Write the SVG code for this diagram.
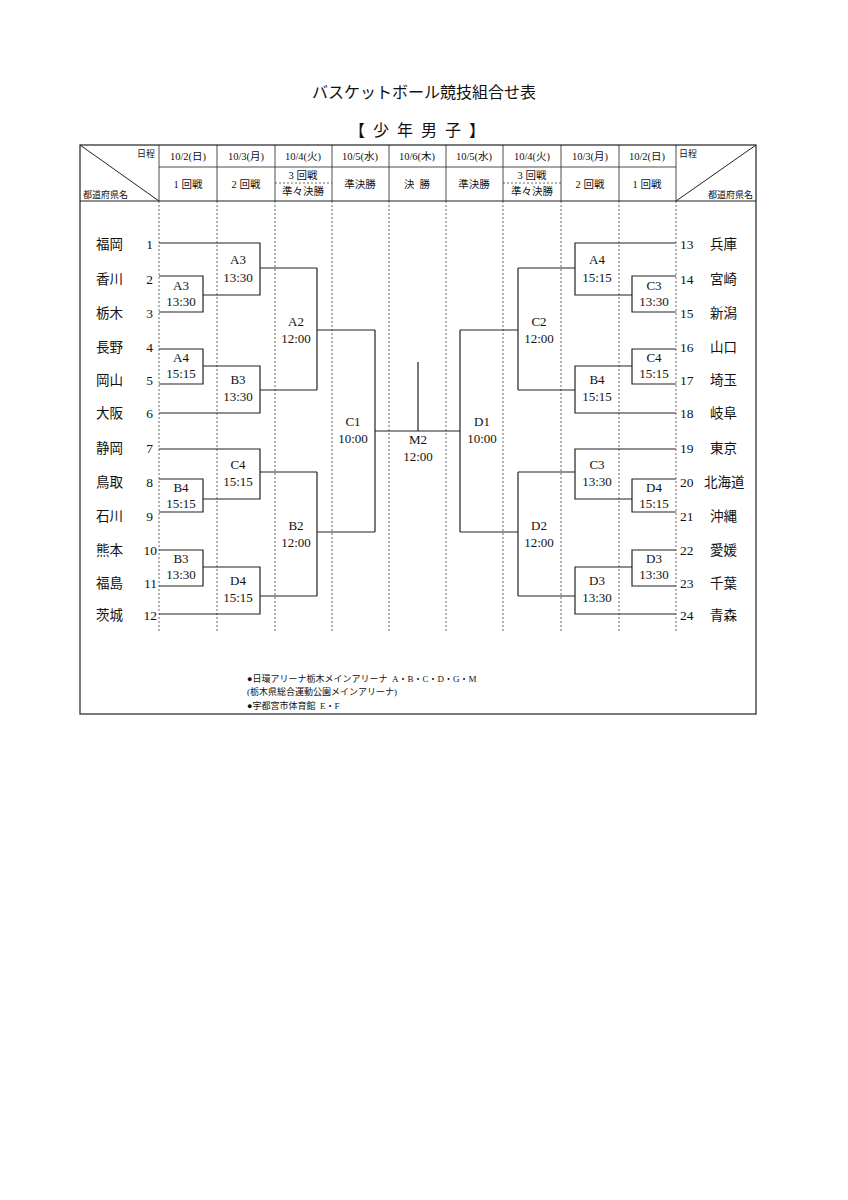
<svg xmlns="http://www.w3.org/2000/svg" width="848" height="1200" viewBox="0 0 848 1200">
<style>
text{font-family:"Liberation Serif","Noto Sans CJK JP",serif;fill:#111}
.t{font-size:13.5px}
.l{font-size:13px;text-anchor:middle}
.h{font-size:10.5px;text-anchor:middle}
.s{font-size:9px}
.ln{fill:none;stroke:#222;stroke-width:1.2}
.dash{stroke:#444;stroke-width:0.8;stroke-dasharray:2,2}
</style>
<rect width="848" height="1200" fill="#fff"/>
<text x="424" y="98" style="font-size:16px;text-anchor:middle">バスケットボール競技組合せ表</text>
<text x="417" y="136" style="font-size:16px;text-anchor:middle" xml:space="preserve">【  少  年  男  子  】</text>
<g id="frame">
<rect x="80" y="145" width="676" height="569" class="ln" stroke-width="1.6"/>
<line x1="159" y1="167" x2="676" y2="167" stroke="#222" stroke-width="0.8"/>
<line x1="80" y1="201" x2="756" y2="201" stroke="#222" stroke-width="1.2"/>
<line x1="80" y1="145" x2="159" y2="201" stroke="#222"/>
<line x1="676" y1="201" x2="756" y2="145" stroke="#222"/>
<g stroke="#222" stroke-width="0.8">
<line x1="159" y1="145" x2="159" y2="201"/><line x1="217" y1="145" x2="217" y2="201"/><line x1="275" y1="145" x2="275" y2="201"/><line x1="332" y1="145" x2="332" y2="201"/><line x1="389" y1="145" x2="389" y2="201"/><line x1="446" y1="145" x2="446" y2="201"/><line x1="503" y1="145" x2="503" y2="201"/><line x1="561" y1="145" x2="561" y2="201"/><line x1="619" y1="145" x2="619" y2="201"/><line x1="676" y1="145" x2="676" y2="201"/>
</g>
<line x1="275" y1="183" x2="332" y2="183" class="dash"/>
<line x1="503" y1="183" x2="561" y2="183" class="dash"/>
<g class="dash">
<line x1="159" y1="201" x2="159" y2="631"/><line x1="217" y1="201" x2="217" y2="631"/><line x1="275" y1="201" x2="275" y2="631"/><line x1="332" y1="201" x2="332" y2="631"/><line x1="389" y1="201" x2="389" y2="631"/><line x1="446" y1="201" x2="446" y2="631"/><line x1="503" y1="201" x2="503" y2="631"/><line x1="561" y1="201" x2="561" y2="631"/><line x1="619" y1="201" x2="619" y2="631"/><line x1="676" y1="201" x2="676" y2="631"/>
</g>
</g>
<g id="header">
<text x="137" y="157" class="s">日程</text>
<text x="83" y="198" class="s">都道府県名</text>
<text x="679" y="157" class="s">日程</text>
<text x="753" y="198" class="s" text-anchor="end">都道府県名</text>
<text x="188" y="160" class="h">10/2(日)</text><text x="246" y="160" class="h">10/3(月)</text><text x="303" y="160" class="h">10/4(火)</text><text x="360" y="160" class="h">10/5(水)</text><text x="417" y="160" class="h">10/6(木)</text><text x="474" y="160" class="h">10/5(水)</text><text x="532" y="160" class="h">10/4(火)</text><text x="590" y="160" class="h">10/3(月)</text><text x="647" y="160" class="h">10/2(日)</text>
<text x="188" y="188" class="h" xml:space="preserve">1 回戦</text><text x="246" y="188" class="h" xml:space="preserve">2 回戦</text><text x="303" y="179" class="h" xml:space="preserve">3 回戦</text><text x="303" y="195" class="h">準々決勝</text><text x="360" y="188" class="h">準決勝</text><text x="417" y="188" class="h" xml:space="preserve">決  勝</text><text x="474" y="188" class="h">準決勝</text><text x="532" y="179" class="h" xml:space="preserve">3 回戦</text><text x="532" y="195" class="h">準々決勝</text><text x="590" y="188" class="h" xml:space="preserve">2 回戦</text><text x="647" y="188" class="h" xml:space="preserve">1 回戦</text>
</g>
<g id="teams-left" class="t">
<text x="96" y="249">福岡</text><text x="153" y="249" text-anchor="end">1</text>
<text x="96" y="284">香川</text><text x="153" y="284" text-anchor="end">2</text>
<text x="96" y="318">栃木</text><text x="153" y="318" text-anchor="end">3</text>
<text x="96" y="352">長野</text><text x="153" y="352" text-anchor="end">4</text>
<text x="96" y="385">岡山</text><text x="153" y="385" text-anchor="end">5</text>
<text x="96" y="418">大阪</text><text x="153" y="418" text-anchor="end">6</text>
<text x="96" y="453">静岡</text><text x="153" y="453" text-anchor="end">7</text>
<text x="96" y="487">鳥取</text><text x="153" y="487" text-anchor="end">8</text>
<text x="96" y="521">石川</text><text x="153" y="521" text-anchor="end">9</text>
<text x="96" y="555">熊本</text><text x="157" y="555" text-anchor="end">10</text>
<text x="96" y="588">福島</text><text x="157" y="588" text-anchor="end">11</text>
<text x="96" y="620">茨城</text><text x="157" y="620" text-anchor="end">12</text>
</g>
<g id="teams-right" class="t">
<text x="680" y="249">13</text><text x="710" y="249">兵庫</text>
<text x="680" y="284">14</text><text x="710" y="284">宮崎</text>
<text x="680" y="318">15</text><text x="710" y="318">新潟</text>
<text x="680" y="352">16</text><text x="710" y="352">山口</text>
<text x="680" y="385">17</text><text x="710" y="385">埼玉</text>
<text x="680" y="418">18</text><text x="710" y="418">岐阜</text>
<text x="680" y="453">19</text><text x="710" y="453">東京</text>
<text x="680" y="487">20</text><text x="704" y="487">北海道</text>
<text x="680" y="521">21</text><text x="710" y="521">沖縄</text>
<text x="680" y="555">22</text><text x="710" y="555">愛媛</text>
<text x="680" y="588">23</text><text x="710" y="588">千葉</text>
<text x="680" y="620">24</text><text x="710" y="620">青森</text>
</g>
<g id="connectors" class="ln">
<path d="M159,276H203V312H159M203,295H260V243H159M260,268H317"/>
<path d="M159,349H203V384H159M203,366H260V413H159M260,390H317"/>
<path d="M317,268V390M317,330H375"/>
<path d="M159,449H260V499H203M159,479H203V512H159M260,472H317"/>
<path d="M159,550H203V586H159M203,567H260V614H159M260,596H317"/>
<path d="M317,472V596M317,532H375"/>
<path d="M375,330V532M375,431H460M418,362V431"/>
<path d="M676,276H632V312H676M632,295H575V243H676M575,268H518"/>
<path d="M676,349H632V384H676M632,366H575V413H676M575,390H518"/>
<path d="M518,268V390M518,330H460"/>
<path d="M676,449H575V499H632M676,479H632V512H676M575,472H518"/>
<path d="M676,550H632V586H676M632,567H575V614H676M575,596H518"/>
<path d="M518,472V596M518,532H460M460,330V532"/>
</g>
<g id="labels" class="l">
<text x="181" y="290">A3</text><text x="181" y="306">13:30</text>
<text x="238" y="264">A3</text><text x="238" y="282">13:30</text>
<text x="181" y="362">A4</text><text x="181" y="378">15:15</text>
<text x="238" y="384">B3</text><text x="238" y="401">13:30</text>
<text x="296" y="326">A2</text><text x="296" y="343">12:00</text>
<text x="181" y="492">B4</text><text x="181" y="508">15:15</text>
<text x="238" y="469">C4</text><text x="238" y="486">15:15</text>
<text x="181" y="563">B3</text><text x="181" y="579">13:30</text>
<text x="238" y="585">D4</text><text x="238" y="602">15:15</text>
<text x="296" y="530">B2</text><text x="296" y="547">12:00</text>
<text x="353" y="426">C1</text><text x="353" y="443">10:00</text>
<text x="418" y="444">M2</text><text x="418" y="461">12:00</text>
<text x="482" y="426">D1</text><text x="482" y="443">10:00</text>
<text x="654" y="290">C3</text><text x="654" y="306">13:30</text>
<text x="597" y="264">A4</text><text x="597" y="282">15:15</text>
<text x="654" y="362">C4</text><text x="654" y="378">15:15</text>
<text x="597" y="384">B4</text><text x="597" y="401">15:15</text>
<text x="539" y="326">C2</text><text x="539" y="343">12:00</text>
<text x="654" y="492">D4</text><text x="654" y="508">15:15</text>
<text x="597" y="469">C3</text><text x="597" y="486">13:30</text>
<text x="654" y="563">D3</text><text x="654" y="579">13:30</text>
<text x="597" y="585">D3</text><text x="597" y="602">13:30</text>
<text x="539" y="530">D2</text><text x="539" y="547">12:00</text>
</g>
<g id="footer" class="s">
<text x="247" y="682" xml:space="preserve">●日環アリーナ栃木メインアリーナ  A・B・C・D・G・M</text>
<text x="247" y="695">(栃木県総合運動公園メインアリーナ)</text>
<text x="247" y="709" xml:space="preserve">●宇都宮市体育館  E・F</text>
</g>
</svg>
